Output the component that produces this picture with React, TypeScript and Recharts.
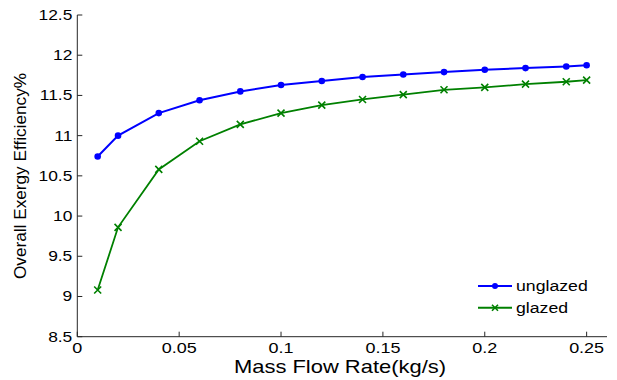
import React from 'react';
import { LineChart, Line, XAxis, YAxis } from 'recharts';

const flowRates = [0.01, 0.02, 0.04, 0.06, 0.08, 0.1, 0.12, 0.14, 0.16, 0.18, 0.2, 0.22, 0.24, 0.25];
const unglazed = [10.74, 11.0, 11.28, 11.44, 11.55, 11.63, 11.68, 11.73, 11.76, 11.79, 11.82, 11.84, 11.86, 11.875];
const glazed = [9.08, 9.86, 10.58, 10.93, 11.14, 11.28, 11.38, 11.45, 11.51, 11.57, 11.6, 11.64, 11.67, 11.69];

const xTicks = [0, 0.05, 0.1, 0.15, 0.2, 0.25];
const xTickLabels = ['0', '0.05', '0.1', '0.15', '0.2', '0.25'];
const yTicks = [8.5, 9, 9.5, 10, 10.5, 11, 11.5, 12, 12.5];
const yTickLabels = ['8.5', '9', '9.5', '10', '10.5', '11', '11.5', '12', '12.5'];

const seriesNames = ['unglazed', 'glazed'];
const seriesColors = ['#0000FF', '#008000'];

const data = flowRates.map((x, i) => ({ x, unglazed: unglazed[i], glazed: glazed[i] }));

const FONT = 'Liberation Sans, Arial, sans-serif';
const AXIS = '#262626';

const XTick = (props: any) => {
  const { x, y, payload } = props;
  const idx = xTicks.indexOf(payload.value);
  const label = idx >= 0 ? xTickLabels[idx] : String(payload.value);
  return (
    <g>
      <line x1={x} y1={y} x2={x} y2={y - 5} stroke={AXIS} strokeWidth={1} />
      <g transform={`translate(${x},${y + 16}) scale(1.2,1)`}>
        <text x={0} y={0} textAnchor="middle" fontFamily={FONT} fontSize={15} fill="#000">
          {label}
        </text>
      </g>
    </g>
  );
};

const YTick = (props: any) => {
  const { x, y, payload } = props;
  const idx = yTicks.indexOf(payload.value);
  const label = idx >= 0 ? yTickLabels[idx] : String(payload.value);
  return (
    <g>
      <line x1={x} y1={y} x2={x + 5} y2={y} stroke={AXIS} strokeWidth={1} />
      <g transform={`translate(${x - 5},${y + 5}) scale(1.2,1)`}>
        <text x={0} y={0} textAnchor="end" fontFamily={FONT} fontSize={14.5} fill="#000">
          {label}
        </text>
      </g>
    </g>
  );
};

const CrossDot = (props: any) => {
  const { cx, cy, index } = props;
  if (cx == null || cy == null) return <g key={`c${index}`} />;
  const s = 3.5;
  return (
    <path
      key={`c${index}`}
      d={`M${cx - s},${cy - s}L${cx + s},${cy + s}M${cx - s},${cy + s}L${cx + s},${cy - s}`}
      stroke={seriesColors[1]}
      strokeWidth={1.6}
      fill="none"
    />
  );
};

const LegendGroup = () => (
  <g transform="translate(470,275)">
    {seriesNames.map((name, i) => {
      const cy = 11 + i * 21.7;
      return (
        <g key={name}>
          <line x1={8} y1={cy} x2={42} y2={cy} stroke={seriesColors[i]} strokeWidth={2} />
          {i === 0 ? (
            <circle cx={25} cy={cy} r={3} fill={seriesColors[i]} />
          ) : (
            <path
              d={`M${22},${cy - 3}L${28},${cy + 3}M${22},${cy + 3}L${28},${cy - 3}`}
              stroke={seriesColors[i]}
              strokeWidth={1.6}
            />
          )}
          <g transform={`translate(46,${cy + 5}) scale(1.22,1)`}>
            <text x={0} y={0} fontFamily={FONT} fontSize={14.5} fill="#000">
              {name}
            </text>
          </g>
        </g>
      );
    })}
  </g>
);

const XLabel = () => (
  <g>
    <g transform="translate(340,373) scale(1.22,1)">
      <text x={0} y={0} textAnchor="middle" fontFamily={FONT} fontSize={18} fill="#000">
        Mass Flow Rate(kg/s)
      </text>
    </g>
    <LegendGroup />
  </g>
);

const YLabel = () => (
  <text
    x={25.5}
    y={176}
    transform="rotate(-90,25.5,176)"
    textAnchor="middle"
    fontFamily={FONT}
    fontSize={17.2}
    fill="#000"
  >
    Overall Exergy Efficiency%
  </text>
);

export default function App() {
  return (
    <div style={{ position: 'absolute', left: 0, top: 0, width: 617, height: 380, background: '#fff' }}>
      <LineChart
        width={617}
        height={380}
        data={data}
        margin={{ top: 15, right: 10, bottom: 13.3, left: 17.3 }}
      >
        <XAxis
          dataKey="x"
          type="number"
          domain={[0, 0.26]}
          ticks={xTicks}
          tick={<XTick />}
          tickLine={false}
          tickSize={0}
          tickMargin={0}
          height={30}
          axisLine={{ stroke: AXIS, strokeWidth: 1 }}
          interval={0}
          allowDataOverflow
          label={<XLabel />}
        />
        <YAxis
          type="number"
          domain={[8.5, 12.5]}
          ticks={yTicks}
          tick={<YTick />}
          tickLine={false}
          tickSize={0}
          tickMargin={0}
          width={60}
          axisLine={{ stroke: AXIS, strokeWidth: 1 }}
          interval={0}
          allowDataOverflow
          label={<YLabel />}
        />
        <Line
          dataKey="unglazed"
          name={seriesNames[0]}
          stroke={seriesColors[0]}
          strokeWidth={2}
          dot={{ r: 3.3, fill: seriesColors[0], stroke: seriesColors[0], strokeWidth: 0 }}
          isAnimationActive={false}
        />
        <Line
          dataKey="glazed"
          name={seriesNames[1]}
          stroke={seriesColors[1]}
          strokeWidth={1.8}
          dot={<CrossDot />}
          isAnimationActive={false}
        />
      </LineChart>
    </div>
  );
}
